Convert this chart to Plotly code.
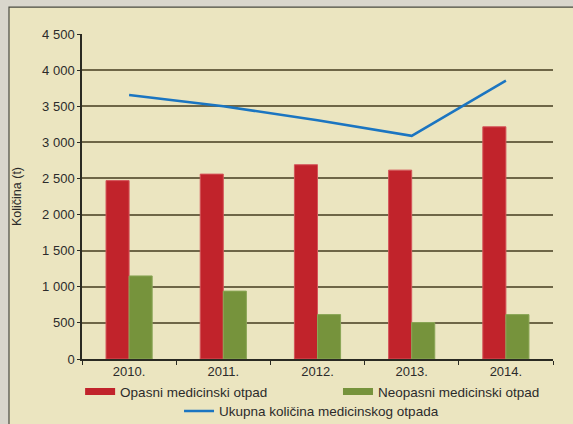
import plotly.graph_objects as go

years = ["2010.", "2011.", "2012.", "2013.", "2014."]
opasni = [2470, 2560, 2690, 2615, 3215]
neopasni = [1150, 940, 615, 505, 615]
ukupno = [3655, 3500, 3305, 3090, 3855]
y_ticks = [0, 500, 1000, 1500, 2000, 2500, 3000, 3500, 4000, 4500]

red = "#c1232b"
green = "#76933c"
blue = "#1b75c1"
font = "Liberation Sans, Arial, sans-serif"

fig = go.Figure()
fig.add_trace(go.Bar(x=years, y=opasni, name="Opasni medicinski otpad",
                     marker=dict(color=red, line=dict(color="#d4555a", width=1)),
                     showlegend=False))
fig.add_trace(go.Bar(x=years, y=neopasni, name="Neopasni medicinski otpad",
                     marker=dict(color=green, line=dict(color="#8aa656", width=1)),
                     showlegend=False))
fig.add_trace(go.Scatter(x=years, y=ukupno, name="Ukupna količina medicinskog otpada",
                         mode="lines", line=dict(color=blue, width=2.5),
                         legend="legend3"))
# legend proxies giving the wide flat swatches used in the reference
fig.add_trace(go.Scatter(x=[None], y=[None], mode="lines", name="Opasni medicinski otpad",
                         line=dict(color=red, width=7), legend="legend"))
fig.add_trace(go.Scatter(x=[None], y=[None], mode="lines", name="Neopasni medicinski otpad",
                         line=dict(color=green, width=7), legend="legend2"))

leg_common = dict(orientation="h", xanchor="left", yanchor="top",
                  bgcolor="rgba(0,0,0,0)", font=dict(size=13.5, color="#2b2b2b"))
fig.update_layout(
    width=573, height=424,
    margin=dict(l=82, r=20, t=34, b=65, autoexpand=False),
    paper_bgcolor="#d9d6cc",
    plot_bgcolor="#dbd189",
    separators=", ",
    font=dict(family=font, size=12, color="#2b2b2b"),
    barmode="group", bargap=0.51, bargroupgap=0,
    showlegend=True,
    legend=dict(x=-0.004, y=-0.053, **leg_common),
    legend2=dict(x=0.5435, y=-0.053, **leg_common),
    legend3=dict(x=0.206, y=-0.113, **leg_common),
    shapes=[dict(type="rect", xref="paper", yref="paper", x0=-0.155, x1=1.1,
                 y0=-0.25, y1=1.083, fillcolor="#ebe5c0",
                 line=dict(color="#4a4a40", width=1.2), layer="below")],
)
fig.update_xaxes(showline=True, linecolor="#2a2a22", linewidth=1.5,
                 ticks="outside", tickson="boundaries", ticklen=4, tickcolor="#2a2a22",
                 tickfont=dict(size=13), showgrid=False)
fig.update_yaxes(range=[0, 4500], tickvals=y_ticks, tickformat=",d",
                 showline=True, linecolor="#2a2a22", linewidth=1.5,
                 ticks="outside", ticklen=3, tickcolor="#2a2a22",
                 gridcolor="#6e6647", gridwidth=1.5, zeroline=False,
                 tickfont=dict(size=13),
                 title=dict(text="Količina (t)", font=dict(size=12.5), standoff=18))

fig.write_html("out.html", config={"displayModeBar": False},
               post_script="document.body.style.margin='0';document.body.style.background='#d9d6cc';")
